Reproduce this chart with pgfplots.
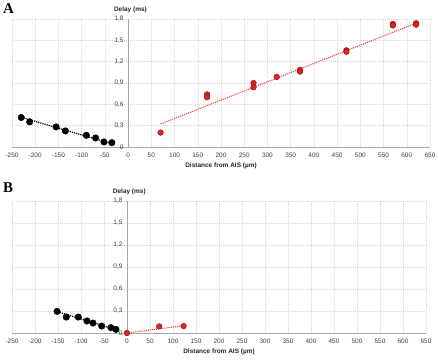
\documentclass[border=0pt]{standalone}
\usepackage{pgfplots}
\pgfplotsset{compat=1.18}
\usepackage{fontspec}
\setmainfont{Liberation Sans}
\newfontfamily\seriffont{Liberation Serif}
\definecolor{gridc}{HTML}{D8D8D8}
\definecolor{axc}{HTML}{A8A8A8}
\definecolor{redfill}{HTML}{E02424}
\definecolor{rededge}{HTML}{8E1010}
\definecolor{redline}{HTML}{F04040}
\pgfplotsset{
  panel/.style={
    scale only axis,
    xmin=-250, xmax=650, ymin=0, ymax=1.8,
    axis lines=middle,
    axis line style={-, axc, line width=1pt},
    xtick={-250,-200,...,650},
    ytick={0,0.3,...,1.8},
    grid=major,
    grid style={gridc, dash pattern=on 1pt off 1pt, line width=0.5pt},
    major tick length=0pt,
    /pgf/number format/assume math mode=true,
    /pgf/number format/use comma,
    /pgf/number format/fixed,
    /pgf/number format/precision=1,
    tick label style={font=\fontsize{6.5}{7.5}\selectfont, text=black!75},
    xticklabel style={yshift=-2.5pt},
    yticklabel style={xshift=-1pt},
    hide obscured x ticks=false,
    hide obscured y ticks=false,
    clip=false,
    blackpt/.style={only marks, mark=*, mark size=3.3pt, mark options={fill=black, draw=black}},
    redpt/.style={only marks, mark=*, mark size=2.8pt, mark options={fill=redfill, draw=rededge, line width=0.5pt}},
  }
}
\begin{document}
\begin{tikzpicture}[x=1bp,y=1bp]
\path[use as bounding box] (0,0) rectangle (438,-359);
\node[anchor=north west, inner sep=0pt, font=\seriffont\bfseries\fontsize{15}{15}\selectfont] at (3,-3) {A};
\node[anchor=north west, inner sep=0pt, font=\seriffont\bfseries\fontsize{15}{15}\selectfont] at (3,-183) {B};
\begin{axis}[panel, at={(12bp,-147bp)}, anchor=south west, width=418bp, height=128bp]
  \addplot[black, densely dotted, line width=1.2pt] coordinates {(-230,0.417) (-35,0.047)};
  \addplot[redline, densely dotted, line width=1.1pt] coordinates {(70,0.324) (625,1.755)};
  \addplot[blackpt] coordinates {
    (-230,0.415) (-212,0.354) (-155,0.283) (-135,0.226)
    (-90,0.165) (-70,0.127) (-52,0.071) (-35,0.061)};
  \addplot[redpt] coordinates {
    (70,0.203) (170,0.74) (170,0.70) (270,0.90) (270,0.84)
    (320,0.985) (370,1.085) (370,1.06) (470,1.36) (470,1.34)
    (570,1.73) (570,1.71) (620,1.74) (620,1.72)};
  \node[font=\bfseries\fontsize{6.5}{7.5}\selectfont, text=black!85] at (axis cs:5,1.8) [yshift=9bp] {Delay (ms)};
  \node[font=\bfseries\fontsize{6.5}{7.5}\selectfont, text=black!85] at (axis cs:200,0) [yshift=-19bp] {Distance from AIS (µm)};
\end{axis}
\begin{axis}[panel, at={(12bp,-333bp)}, anchor=south west, width=414bp, height=132bp]
  \addplot[black, densely dotted, line width=1.2pt] coordinates {(-151,0.29) (-24,0.045)};
  \addplot[redline, densely dotted, line width=1.1pt] coordinates {(0,0.0) (123,0.1)};
  \addplot[blackpt] coordinates {
    (-152,0.295) (-132,0.218) (-106,0.218) (-87,0.164)
    (-74,0.136) (-55,0.095) (-35,0.073) (-24,0.05)};
  \addplot[redpt] coordinates {(0,0) (70,0.09) (123,0.095)};
  \node[font=\bfseries\fontsize{6.5}{7.5}\selectfont, text=black!85] at (axis cs:5,1.8) [yshift=9bp] {Delay (ms)};
  \node[font=\bfseries\fontsize{6.5}{7.5}\selectfont, text=black!85] at (axis cs:200,0) [yshift=-19bp] {Distance from AIS (µm)};
\end{axis}
\end{tikzpicture}
\end{document}
